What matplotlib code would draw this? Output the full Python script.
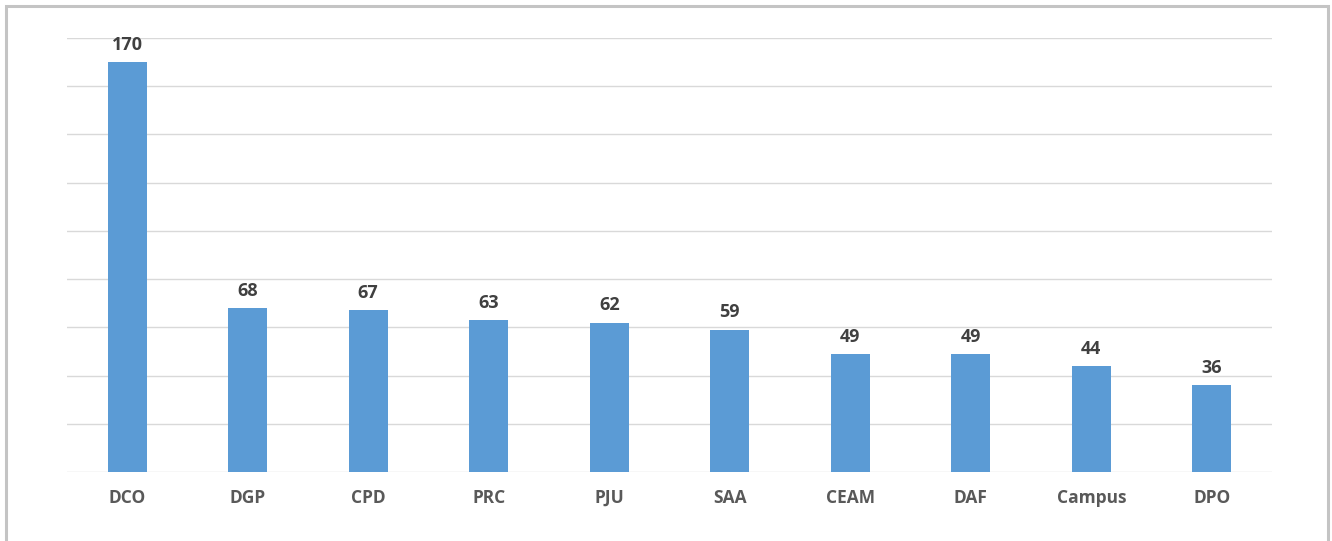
import matplotlib
matplotlib.use("Agg")
import matplotlib.pyplot as plt
from matplotlib.patches import Rectangle

categories = ["DCO", "DGP", "CPD", "PRC", "PJU", "SAA", "CEAM", "DAF", "Campus", "DPO"]
values = [170, 68, 67, 63, 62, 59, 49, 49, 44, 36]

plt.rcParams["font.family"] = ["Open Sans", "DejaVu Sans"]

fig = plt.figure(figsize=(13.32, 5.41), dpi=100)
fig.patch.set_facecolor("white")

# outer frame of the chart
fig.patches.append(Rectangle((6 / 1332, -0.05), 1322 / 1332, 1 - 6 / 541 + 0.05,
                             transform=fig.transFigure, fill=False,
                             edgecolor="#C4C4C4", linewidth=2.2))

ax = fig.add_axes([67 / 1332, 69 / 541, 1205 / 1332, 434 / 541])
x = range(len(categories))
bars = ax.bar(x, values, width=0.32, color="#5B9BD5", zorder=3)

ax.set_xlim(-0.5, len(categories) - 0.5)
ax.set_ylim(0, 180)
ax.set_yticks(range(0, 181, 20))
ax.yaxis.grid(True, color="#D9D9D9", linewidth=1.0, zorder=0)
ax.tick_params(axis="y", left=False, labelleft=False)
ax.tick_params(axis="x", length=0, pad=12)
ax.set_xticks(list(x))
ax.set_xticklabels(categories, fontsize=12.5, fontweight="bold", color="#595959")
for s in ax.spines.values():
    s.set_visible(False)

for b, v in zip(bars, values):
    ax.annotate(str(v), (b.get_x() + b.get_width() / 2, v), xytext=(0, 6),
                textcoords="offset points", ha="center", va="bottom",
                fontsize=13, fontweight="bold", color="#404040")

fig.savefig("out.png", dpi=100)
